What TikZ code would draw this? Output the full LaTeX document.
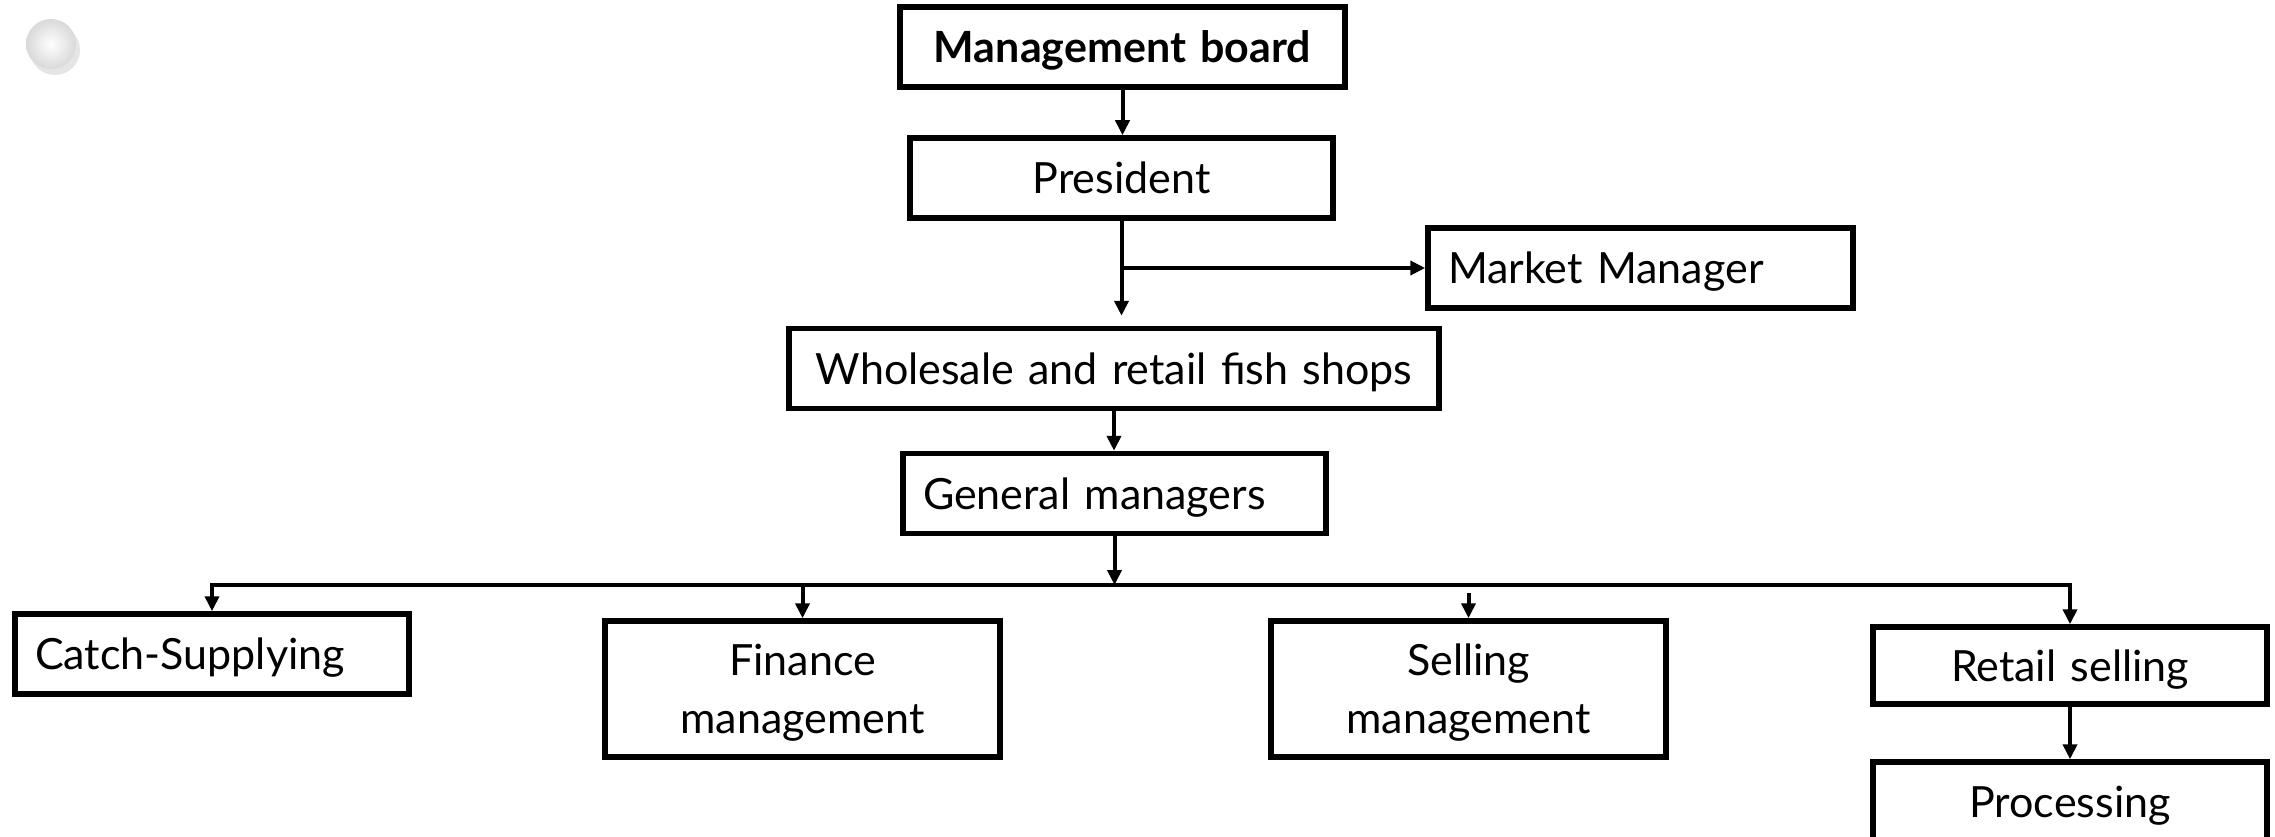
\documentclass[tikz,border=0pt]{standalone}
\usepackage{fontspec}
\setmainfont{Lato}
\usetikzlibrary{arrows.meta}
\begin{document}
\begin{tikzpicture}[x=1pt,y=-1pt,
  box/.style={draw=black, line width=5.5pt, fill=white, inner xsep=20pt, inner ysep=0pt,
    minimum height=80pt, font=\fontsize{43}{58}\selectfont, align=center,
    text height=31pt, text depth=0pt},
  twoline/.style={text depth=58pt, minimum height=136pt},
  conn/.style={line width=4pt, -{Triangle[length=15pt,width=14pt]}},
  busline/.style={line width=4pt, line cap=rect}]
\useasboundingbox (0,0) rectangle (2275,837);
\fill[white] (0,0) rectangle (2275,837);
% decorative ball
\fill[gray!45, opacity=0.45] (55,50) circle (25pt);
\shade[inner color=white, outer color=gray!30] (51,44) circle (25pt);
% boxes
\node[box, text width=405pt, font=\bfseries\fontsize{43}{58}\selectfont] (mb) at (1122.5,47) {Management board};
\node[box, text width=383pt] (pres) at (1121.5,178) {President};
\node[box, text width=385pt, align=left] (mm) at (1640.5,268) {Market Manager};
\node[box, text width=610pt] (ws) at (1114,368.5) {Wholesale and retail fish shops};
\node[box, text width=383pt, align=left] (gm) at (1114.5,493.5) {General managers};
\node[box, text width=354pt, align=left] (cs) at (212,654) {Catch-Supplying};
\node[box, twoline, text width=355pt] (fin) at (802.5,689) {Finance\\management};
\node[box, twoline, text width=355pt] (sel) at (1468.5,689) {Selling\\management};
\node[box, text width=354pt, minimum height=77pt] (ret) at (2070,665.5) {Retail selling};
\node[box, text width=354pt] (proc) at (2070,802) {Processing};
% connectors
\draw[conn] (mb.south) -- (mb.south |- pres.north);
\draw[conn, shorten >=10pt] (pres.south) -- (pres.south |- ws.north);
\coordinate (br) at (pres.south |- mm.west);
\draw[conn] (br) -- (mm.west);
\draw[conn] (ws.south) -- (ws.south |- gm.north);
\coordinate (bus) at (1117,585);
\draw[conn] (gm.south) -- (gm.south |- bus);
\coordinate (busL) at (cs.north |- bus);
\coordinate (busR) at (ret.north |- bus);
\draw[busline] (busL) -- (busR);
\draw[conn] (busL) -- (cs.north);
\coordinate (fb) at (fin.north |- bus);
\draw[conn] (fb) -- (fin.north);
\coordinate (sb) at (sel.north |- bus);
\draw[conn] ([yshift=-8pt]sb) -- (sel.north);
\draw[conn] (busR) -- (ret.north);
\draw[conn] (ret.south) -- (proc.north);
\end{tikzpicture}
\end{document}
